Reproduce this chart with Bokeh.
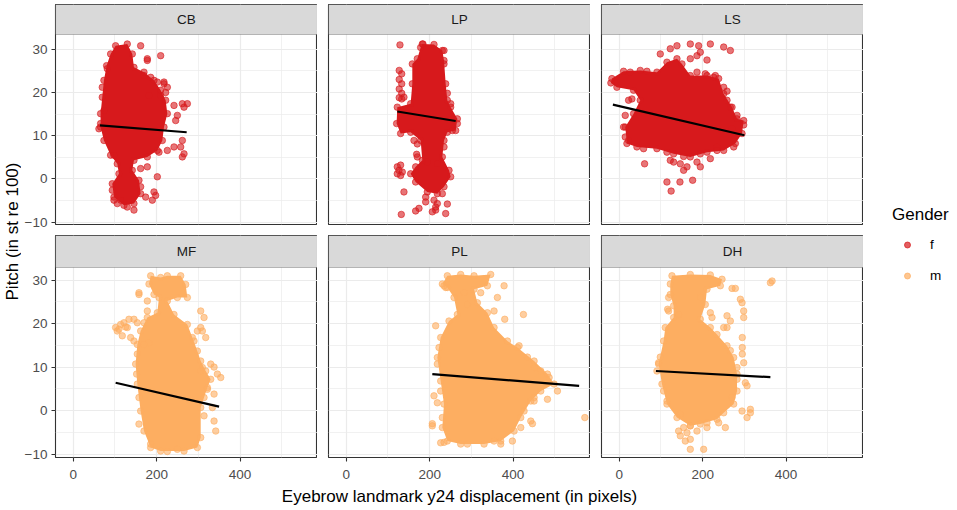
import math
from bokeh.plotting import figure
from bokeh.layouts import row, column
from bokeh.models import Range1d, FixedTicker, BoxAnnotation, Label, Legend, LegendItem
from bokeh.core.properties import value
from bokeh.embed import file_html
from bokeh.resources import INLINE

FONT = "Liberation Sans"

# ---------------- data ----------------
panel_names = ["CB", "LP", "LS", "MF", "PL", "DH"]
panel_gender = ["f", "f", "f", "m", "m", "m"]
gender_levels = ["f", "m"]
gender_colors = ["#D7191C", "#FDAE61"]

x_ticks = [0, 200, 400]
x_minor = [100, 300, 500]
y_ticks = [-10, 0, 10, 20, 30]
y_minor = [-5, 5, 15, 25]

x_title = "Eyebrow landmark y24 displacement (in pixels)"
y_title = "Pitch (in st re 100)"
legend_title = "Gender"

# dense core outline of each point cloud (x = displacement, y = pitch) and the scattered points around it
cb_core_x = [101.6, 129.6, 141.6, 145.6, 169.6, 193.6, 209.6, 221.6, 225.6, 217.6, 213.6, 201.6, 177.6, 145.6, 141.6, 157.6, 161.6, 145.6, 121.6, 97.6, 93.6, 109.6, 105.6, 89.6, 73.6, 65.6, 65.6, 69.6, 73.6, 80.0, 89.6]
cb_core_y = [30.8, 31.2, 28.9, 25.8, 24.7, 22.8, 20.5, 18.2, 15.1, 12.0, 8.9, 6.6, 5.1, 4.3, 2.0, -0.3, -3.4, -5.7, -6.1, -4.2, -1.1, 1.2, 3.5, 5.5, 8.9, 12.0, 15.1, 18.9, 22.8, 26.2, 28.9]
cb_pts_x = [161.6, 177.6, 177.6, 209.6, 185.6, 217.6, 225.6, 221.6, 241.6, 261.6, 273.6, 265.6, 249.6, 245.6, 261.6, 257.6, 241.6, 265.6, 261.6, 225.6, 205.6, 97.6, 177.6, 161.6, 201.6, 193.6, 189.6, 197.6, 97.6, 105.6, 145.6, 129.6, 173.6, 61.6, 65.6,
            209.6, 217.6, 201.6, 169.6, 181.6, 73.6, 69.6, 81.6, 93.6, 161.6, 113.6]
cb_pts_y = [30.8, 27.8, 27.4, 28.5, 23.5, 22.4, 21.2, 20.0, 17.0, 17.4, 17.4, 16.6, 14.7, 13.5, 8.9, 7.4, 7.4, 5.8, 5.1, 6.6, 6.2, 5.5, 2.8, 2.4, 0.5, -3.0, -4.9, -3.8, -4.9, -5.7, -7.2, -6.5, -4.2, 11.6, 12.8,
            19.3, 22.0, 22.4, 23.9, 19.3, 15.8, 21.2, 25.5, -2.6, -1.8, -4.9]
cb_fit_x = [64, 272]
cb_fit_y = [12.4, 10.8]

lp_core_x = [182.4, 210.4, 230.4, 234.4, 238.4, 242.4, 250.4, 266.4, 262.4, 242.4, 234.4, 230.4, 246.4, 250.4, 234.4, 218.4, 194.4, 166.4, 154.4, 166.4, 182.4, 178.4, 154.4, 130.4, 120.8, 122.4, 154.4, 158.4, 158.4, 170.4, 178.4]
lp_core_y = [31.2, 31.1, 29.7, 27.4, 22.0, 18.2, 16.6, 13.9, 11.2, 10.8, 8.9, 5.1, 2.0, 0.5, -1.8, -3.4, -3.0, -0.7, 1.2, 2.8, 4.3, 8.9, 10.8, 10.5, 12.8, 16.6, 17.4, 22.0, 26.6, 27.8, 30.4]
lp_pts_x = [128.8, 184.0, 234.4, 234.4, 250.4, 254.4, 266.4, 170.4, 168.8, 170.4, 218.4, 194.4, 138.4, 190.4, 190.4, 166.4, 174.4, 132.0, 210.4, 214.4, 206.4, 218.4, 238.4, 242.4, 230.4, 214.4,
            127.0, 133.0, 127.0, 133.0, 127.0, 133.0, 127.0, 133.0, 138.4, 122.4, 130.4, 126.4, 134.4, 130.4, 122.4,
            242.4, 234.4, 162.4]
lp_pts_y = [31.0, 31.2, 29.7, 26.6, 17.4, 11.2, 12.8, 8.1, 5.7, 5.1, 3.5, 3.9, -3.0, -4.2, -5.3, -7.4, -6.8, -8.2, -4.9, -7.2, -7.6, -5.7, -8.0, -5.8, -3.4, -6.5,
            25.1, 24.3, 23.0, 22.0, 20.8, 19.8, 18.8, 18.5, 18.9, 2.8, 3.2, 2.0, 1.6, 0.8, 1.2,
            19.8, 7.4, 8.9]
lp_fit_x = [122.4, 262.4]
lp_fit_y = [15.6, 13.4]

ls_core_x = [-17.6, 10.4, 50.4, 90.4, 114.4, 138.4, 150.4, 170.4, 210.4, 238.4, 250.4, 270.4, 282.4, 298.4, 294.4, 278.4, 250.4, 210.4, 170.4, 130.4, 90.4, 42.4, 18.4, 14.4, 34.4, 50.4, 34.4, -5.6, -20.0]
ls_core_y = [23.2, 24.9, 25.1, 24.7, 27.0, 27.8, 26.6, 23.9, 23.9, 23.2, 19.7, 16.6, 13.9, 13.5, 10.5, 8.2, 6.6, 6.2, 5.1, 5.8, 7.0, 7.4, 8.2, 12.0, 15.1, 18.2, 20.5, 21.2, 22.2]
ls_pts_x = [98.4, 122.4, 138.4, 170.4, 190.4, 218.4, 250.4, 266.4, 210.4, 170.4, 186.4, 194.4, 226.4, 250.4, 258.4, 22.4, 30.4, 14.4, 10.4, 14.4, 22.4, 282.4, 298.4, 270.4, 122.4, 130.4, 146.4, 154.4, 162.4, 186.4, 194.4, 218.4, 60.8, 114.4, 145.6, 176.0, 124.4, 234.4, 274.4,
            186.4, 206.4, 230.4, 258.4, 266.4, 234.4, 194.4, 154.4, 114.4, 58.4, 26.4, 66.4]
ls_pts_y = [28.9, 30.1, 30.8, 31.2, 30.8, 31.2, 30.5, 29.7, 27.5, 27.8, 28.5, 29.3, 23.5, 21.2, 20.3, 18.2, 18.5, 14.7, 12.0, 9.7, 8.9, 14.7, 12.5, 11.6, 4.3, 3.9, 3.5, 2.0, 2.8, 3.9, 2.8, 4.7, 3.5, -0.7, -0.7, -0.3, -2.8, 7.4, 7.4,
            24.7, 24.3, 23.9, 18.2, 16.6, 6.6, 5.8, 5.2, 6.2, 7.0, 24.7, 24.9]
ls_fit_x = [-15.2, 300.0]
ls_fit_y = [17.2, 10.1]

mf_core_x = [185.6, 209.6, 225.6, 257.6, 269.6, 273.6, 249.6, 225.6, 241.6, 273.6, 285.6, 297.6, 305.6, 317.6, 329.6, 321.6, 313.6, 305.6, 305.6, 297.6, 265.6, 209.6, 185.6, 169.6, 161.6, 153.6, 149.6, 153.6, 161.6, 177.6, 201.6, 205.6, 193.6, 181.6]
mf_core_y = [31.0, 30.6, 31.0, 31.0, 29.0, 26.0, 26.0, 25.2, 22.1, 19.8, 16.8, 13.7, 11.4, 9.1, 7.2, 5.3, 3.0, 0.7, -6.2, -8.5, -9.3, -9.3, -8.5, -4.7, -0.1, 6.1, 10.7, 15.2, 18.3, 21.4, 22.5, 26.0, 26.7, 29.1]
mf_pts_x = [101.6, 105.6, 113.6, 121.6, 133.6, 145.6, 153.6, 129.6, 117.6, 137.6, 145.6, 169.6, 181.6, 169.6, 109.6, 125.6,
            157.6, 157.6, 177.6, 177.6, 305.6, 313.6, 309.6, 317.6, 297.6, 305.6, 329.6, 337.6, 353.6, 345.6, 337.6, 333.6, 337.6, 341.6, 157.6, 313.6, 321.6, 309.6,
            289.6, 305.6, 153.6, 152.0, 157.6, 225.6, 249.6, 185.6]
mf_pts_y = [19.1, 18.3, 19.8, 20.2, 21.0, 21.0, 20.2, 19.1, 17.2, 16.8, 16.0, 15.2, 15.6, 20.2, 18.7, 19.2,
            26.7, 27.1, 22.9, 25.2, 22.9, 21.4, 18.3, 16.8, 18.3, 19.1, 10.7, 10.0, 7.6, 8.4, 3.8, 0.7, -2.4, -4.7, -3.1, -1.2, 4.9, 9.9,
            16.0, 9.1, 13.0, 8.4, 3.0, -9.4, -8.9, -7.7]
mf_fit_x = [101.6, 349.6]
mf_fit_y = [6.4, 0.9]

pl_core_x = [242.4, 274.4, 306.4, 346.4, 338.4, 306.4, 314.4, 338.4, 354.4, 386.4, 410.4, 450.4, 482.4, 498.4, 466.4, 442.4, 418.4, 402.4, 370.4, 330.4, 274.4, 242.4, 230.4, 234.4, 226.4, 218.4, 226.4, 246.4, 266.4, 258.4, 242.4, 230.4]
pl_core_y = [31.0, 31.3, 31.0, 31.3, 28.7, 27.9, 24.8, 22.5, 19.1, 16.0, 14.5, 11.4, 8.4, 6.1, 4.5, 2.2, -1.6, -4.7, -7.0, -7.7, -7.7, -7.0, -3.9, 1.5, 6.8, 12.2, 16.8, 20.6, 22.1, 26.0, 28.3, 29.1]
pl_pts_x = [214.4, 234.4, 282.4, 290.4, 322.4, 362.4, 378.4, 424.8, 380.0, 354.4, 414.4, 450.4, 486.4, 506.4, 482.4, 450.4, 572.0, 442.4, 446.4, 418.4, 398.4, 370.4, 234.4, 226.4, 206.4, 206.4, 218.4, 210.4, 218.4, 238.4,
            222.4, 226.4, 230.4, 290.4, 354.4, 434.4, 466.4, 450.4, 426.4]
pl_pts_y = [19.5, 28.7, 27.1, 24.4, 27.1, 26.0, 28.7, 22.1, 21.0, 22.9, 14.9, 9.9, 7.6, 4.5, 2.6, 2.2, -1.6, -2.4, -3.0, -3.9, -7.0, -7.7, -7.3, -7.4, -3.0, -3.5, 1.8, 3.4, 10.7, 28.3,
            14.5, 4.5, -1.6, -7.7, -7.0, 12.3, 9.1, 3.0, -0.1]
pl_fit_x = [206.4, 558.4]
pl_fit_y = [8.4, 5.7]

dh_core_x = [126.4, 170.4, 218.4, 246.4, 242.4, 210.4, 206.4, 194.4, 218.4, 234.4, 258.4, 274.4, 282.4, 282.4, 274.4, 250.4, 234.4, 194.4, 170.4, 138.4, 114.4, 102.4, 94.4, 106.4, 110.4, 130.4, 130.4, 122.4, 122.4]
dh_core_y = [31.0, 31.3, 31.2, 30.2, 28.7, 27.9, 24.4, 21.0, 19.1, 17.5, 14.9, 12.2, 8.4, 4.5, 1.5, -0.5, -2.0, -3.1, -3.5, -1.6, 1.5, 6.1, 10.7, 16.0, 19.1, 21.4, 24.1, 26.7, 29.1]
dh_pts_x = [118.4, 116.0, 118.4, 142.4, 194.4, 218.4, 222.4, 258.4, 266.4, 258.4, 250.4, 290.4, 294.4, 298.4, 298.4, 295.0, 295.0, 295.0, 298.4, 302.4, 306.4, 282.4, 270.4, 278.4, 366.4, 362.4, 314.4, 314.4, 306.4, 294.4, 114.4, 90.4, 94.4, 146.4, 154.4, 142.4, 158.4, 170.4, 170.4, 202.4, 186.4, 210.4, 238.4, 254.4, 162.4, 146.4,
            98.4, 106.4, 266.4, 282.4, 270.4, 170.4, 210.4]
dh_pts_y = [26.0, 23.3, 22.9, 22.1, 26.0, 22.5, 21.4, 21.8, 20.6, 19.1, 19.1, 25.6, 24.8, 22.9, 21.4, 16.8, 14.5, 13.0, 11.0, 6.4, 5.7, 7.2, 28.1, 28.1, 29.8, 29.4, 0.3, -0.5, -1.6, -0.1, 2.2, 9.1, 11.0, -0.8, -3.9, -4.7, -7.0, -6.6, -8.9, -8.9, -4.7, -3.9, -2.8, -3.9, -5.1, -5.8,
            12.3, 4.5, 13.8, 9.9, 3.0, -3.5, -2.8]
dh_fit_x = [88.0, 362.4]
dh_fit_y = [9.1, 7.7]

core_x = [cb_core_x, lp_core_x, ls_core_x, mf_core_x, pl_core_x, dh_core_x]
core_y = [cb_core_y, lp_core_y, ls_core_y, mf_core_y, pl_core_y, dh_core_y]
pts_x = [cb_pts_x, lp_pts_x, ls_pts_x, mf_pts_x, pl_pts_x, dh_pts_x]
pts_y = [cb_pts_y, lp_pts_y, ls_pts_y, mf_pts_y, pl_pts_y, dh_pts_y]
fit_x = [cb_fit_x, lp_fit_x, ls_fit_x, mf_fit_x, pl_fit_x, dh_fit_x]
fit_y = [cb_fit_y, lp_fit_y, ls_fit_y, mf_fit_y, pl_fit_y, dh_fit_y]

# ---------------- layout constants ----------------
XMIN, XMAX = -42.5, 585.6
Y_LIMS = {True: (-10.53, 33.4), False: (-10.78, 32.9)}   # top row, bottom row
FRAME_W = 262
PANEL_H = 190
LEFT_B = 34
BOTTOM_B = 40
BORDER = "#333333"
GRID = "#EBEBEB"


def make_panel(i):
    top = i < 3
    col = i % 3
    fh = 220 if top else 222
    strip_h = fh - PANEL_H
    ymin, ymax = Y_LIMS[top]
    ppu = PANEL_H / (ymax - ymin)
    ytop = ymax + strip_h / ppu
    p = figure(frame_width=FRAME_W, frame_height=fh,
               x_range=Range1d(XMIN, XMAX), y_range=Range1d(ymin, ytop),
               output_backend="svg", toolbar_location=None,
               min_border_left=LEFT_B if col == 0 else 11, min_border_right=0,
               min_border_top=4 if top else 0, min_border_bottom=11 if top else BOTTOM_B,
               background_fill_color="white", border_fill_color="white")
    p.outline_line_color = BORDER
    p.outline_line_width = 1.1

    p.xgrid.ticker = FixedTicker(ticks=x_ticks, minor_ticks=x_minor)
    p.ygrid.ticker = FixedTicker(ticks=y_ticks, minor_ticks=y_minor)
    for g in (p.xgrid, p.ygrid):
        g.grid_line_color = GRID
        g.grid_line_width = 1.2
        g.minor_grid_line_color = GRID
        g.minor_grid_line_width = 0.7

    p.xaxis.ticker = FixedTicker(ticks=x_ticks)
    p.yaxis.ticker = FixedTicker(ticks=y_ticks)
    for ax in p.axis:
        ax.axis_line_color = None
        ax.major_tick_line_color = BORDER
        ax.major_tick_line_width = 1.1
        ax.major_tick_out = 4
        ax.major_tick_in = 0
        ax.minor_tick_line_color = None
        ax.major_label_text_font = FONT
        ax.major_label_text_font_size = "13.5px"
        ax.major_label_text_color = "#4D4D4D"
    p.yaxis.major_label_standoff = 4
    p.xaxis.major_label_standoff = 8
    if top:
        p.xaxis.visible = False
    if col != 0:
        p.yaxis.visible = False

    color = gender_colors[gender_levels.index(panel_gender[i])]
    p.patch(core_x[i], core_y[i], fill_color=color, fill_alpha=1.0, line_color=None)
    p.scatter(core_x[i] + pts_x[i], core_y[i] + pts_y[i], size=6.5,
              fill_color=color, fill_alpha=0.6, line_color=color, line_alpha=0.6, line_width=1)
    p.line(fit_x[i], fit_y[i], line_color="black", line_width=2.2)

    strip = BoxAnnotation(left=XMIN, right=XMAX, bottom=ymax, top=ytop,
                          fill_color="#D9D9D9", fill_alpha=1.0,
                          line_color=BORDER, line_width=1.1)
    p.add_layout(strip)
    p.add_layout(Label(x=(XMIN + XMAX) / 2, y=(ymax + ytop) / 2, text=panel_names[i],
                       text_align="center", text_baseline="middle",
                       text_font=FONT, text_font_size="13.5px", text_color="#1A1A1A"))
    return p


figs = [make_panel(i) for i in range(6)]

H = 510
GRID_W = LEFT_B + FRAME_W + 2 * (11 + FRAME_W)
YLAB_W = 55 - LEFT_B
rows_h = (4 + 220 + 11) + (222 + BOTTOM_B)
XLAB_TOP = 480
XLAB_H = H - XLAB_TOP

# x axis title under the panels (pulled up over the empty lower border of the bottom row)
xlab = figure(frame_width=GRID_W, frame_height=XLAB_H, min_border=0,
              x_range=Range1d(0, GRID_W), y_range=Range1d(0, XLAB_H),
              output_backend="svg", toolbar_location=None,
              border_fill_alpha=0, background_fill_alpha=0,
              margin=(XLAB_TOP - rows_h, 0, 0, 0))
xlab.axis.visible = False
xlab.grid.visible = False
xlab.outline_line_color = None
xlab.add_layout(Label(x=LEFT_B + (FRAME_W * 3 + 22) / 2, y=H - 496, text=x_title,
                      text_align="center", text_baseline="middle",
                      text_font=FONT, text_font_size="17px", text_color="black"))

# y axis title column
ylab = figure(frame_width=YLAB_W, frame_height=H, min_border=0, x_range=Range1d(0, YLAB_W), y_range=Range1d(0, H),
              output_backend="svg", toolbar_location=None, border_fill_color="white")
ylab.axis.visible = False
ylab.grid.visible = False
ylab.outline_line_color = None
ylab.add_layout(Label(x=11.5, y=H - 231, text=y_title, angle=math.pi / 2,
                      text_align="center", text_baseline="middle",
                      text_font=FONT, text_font_size="17px", text_color="black"))

# legend column (legend glyphs come from hidden renderers of each gender's points)
leg = figure(frame_width=94, frame_height=H, min_border=0, x_range=Range1d(0, 1), y_range=Range1d(0, 1),
             output_backend="svg", toolbar_location=None, border_fill_color="white")
leg.axis.visible = False
leg.grid.visible = False
leg.outline_line_color = None
items = []
for g, c in zip(gender_levels, gender_colors):
    j = panel_gender.index(g)
    r = leg.scatter(pts_x[j], pts_y[j], fill_color=c, fill_alpha=0.7, line_color=c, line_alpha=0.7, visible=False)
    items.append(LegendItem(label=value(g), renderers=[r]))
legend = Legend(items=items, title=legend_title, location=(29, 227),
                title_text_font=FONT, title_text_font_size="17px", title_text_font_style="normal",
                title_text_color="black", title_standoff=12,
                label_text_font=FONT, label_text_font_size="13.5px", label_text_color="black",
                glyph_width=30, glyph_height=15, label_height=15, label_standoff=8, spacing=16,
                padding=0, margin=0, border_line_color=None, background_fill_alpha=0,
                inactive_fill_alpha=0)
leg.add_layout(legend)

layout = row(ylab, column(row(*figs[:3]), row(*figs[3:]), xlab), leg)

open("out.html", "w").write(file_html(layout, INLINE))
